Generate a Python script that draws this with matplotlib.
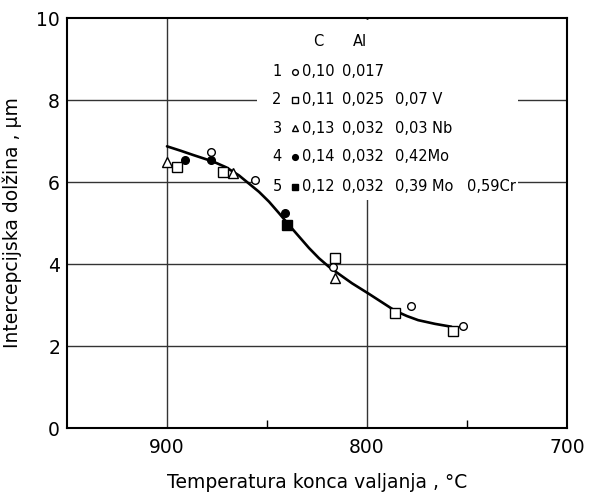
import matplotlib
matplotlib.use("Agg")
import matplotlib.pyplot as plt
from matplotlib.patches import Rectangle

# ---- data ----
s1_x = [878, 856, 817, 778, 752]
s1_y = [6.74, 6.05, 3.92, 2.98, 2.49]
s2_x = [895, 872, 816, 786, 757]
s2_y = [6.36, 6.25, 4.14, 2.80, 2.37]
s3_x = [900, 867, 816]
s3_y = [6.50, 6.21, 3.67]
s4_x = [891, 878, 841]
s4_y = [6.54, 6.54, 5.25]
s5_x = [840]
s5_y = [4.95]

curve_x = [900, 893, 887, 877, 870.5, 864, 859, 854, 849, 844, 839, 834,
           829, 824, 819, 813, 807.5, 799.3, 792, 786, 780, 774.4, 766, 757.8]
curve_y = [6.87, 6.76, 6.66, 6.50, 6.36, 6.16, 5.96, 5.76, 5.52, 5.24, 4.95,
           4.67, 4.39, 4.14, 3.93, 3.72, 3.53, 3.28, 3.05, 2.86, 2.73, 2.63,
           2.54, 2.47]

x_ticks = [900, 800, 700]
y_ticks = [0, 2, 4, 6, 8, 10]

legend_header = ["C", "Al"]
legend_num = ["1", "2", "3", "4", "5"]
legend_c = ["0,10", "0,11", "0,13", "0,14", "0,12"]
legend_al = ["0,017", "0,025", "0,032", "0,032", "0,032"]
legend_x3 = ["", "0,07 V", "0,03 Nb", "0,42Mo", "0,39 Mo"]
legend_x4 = ["", "", "", "", "0,59Cr"]

xlabel = "Temperatura konca valjanja , °C"
ylabel = "Intercepcijska dolžina , μm"

# ---- styles ----
styles = [
    dict(marker="o", mfc="white", mec="black", ms=5.5, mew=1.0),
    dict(marker="s", mfc="white", mec="black", ms=6.5, mew=1.0),
    dict(marker="^", mfc="white", mec="black", ms=6.5, mew=1.0),
    dict(marker="o", mfc="black", mec="black", ms=5.5, mew=1.0),
    dict(marker="s", mfc="black", mec="black", ms=6.5, mew=1.0),
]
series = [(s1_x, s1_y), (s2_x, s2_y), (s3_x, s3_y), (s4_x, s4_y), (s5_x, s5_y)]

plt.rcParams['font.family'] = ['DejaVu Sans']
fig = plt.figure(figsize=(5.91, 4.96), dpi=100)
ax = fig.add_axes([67/591, 1 - 428/496, 500/591, 410/496])

ax.set_xlim(950, 700)
ax.set_ylim(0, 10)

# grid lines
for gx in [900, 800]:
    ax.axvline(gx, color="#333333", lw=1.0, zorder=1)
for gy in [2, 4, 6, 8]:
    ax.axhline(gy, color="#333333", lw=1.0, zorder=1)

# white box behind the legend table
ax.add_patch(Rectangle((0.38, 0.556), 0.522, 0.44, transform=ax.transAxes,
                       facecolor="white", edgecolor="none", zorder=2))

ax.plot(curve_x, curve_y, color="black", lw=1.9, zorder=4,
        solid_joinstyle="round", solid_capstyle="round")

for (xs, ys), st in zip(series, styles):
    ax.plot(xs, ys, ls="none", zorder=5, **st)

# legend table
fs = 10.5
row_y = [0.869, 0.800, 0.731, 0.662, 0.589]
ax.text(0.502, 0.942, legend_header[0], transform=ax.transAxes, ha="center",
        va="center", fontsize=fs, zorder=6)
ax.text(0.586, 0.942, legend_header[1], transform=ax.transAxes, ha="center",
        va="center", fontsize=fs, zorder=6)
for i, yy in enumerate(row_y):
    ax.text(0.42, yy, legend_num[i], transform=ax.transAxes, ha="center",
            va="center", fontsize=fs, zorder=6)
    st = dict(styles[i])
    st["ms"] = st["ms"] * 0.75
    ax.plot([0.456], [yy], transform=ax.transAxes, ls="none", zorder=6,
            clip_on=False, **st)
    ax.text(0.470, yy, legend_c[i], transform=ax.transAxes, ha="left",
            va="center", fontsize=fs, zorder=6)
    ax.text(0.550, yy, legend_al[i], transform=ax.transAxes, ha="left",
            va="center", fontsize=fs, zorder=6)
    if legend_x3[i]:
        ax.text(0.656, yy, legend_x3[i], transform=ax.transAxes, ha="left",
                va="center", fontsize=fs, zorder=6)
    if legend_x4[i]:
        ax.text(0.800, yy, legend_x4[i], transform=ax.transAxes, ha="left",
                va="center", fontsize=fs, zorder=6)

# ticks
ax.set_xticks(x_ticks)
ax.set_xticks([850, 750], minor=True)
ax.set_yticks(y_ticks)
ax.tick_params(axis="x", which="major", length=0, pad=7, labelsize=13.5)
ax.tick_params(axis="x", which="minor", direction="in", length=6, width=1.0,
               top=False, bottom=True)
ax.tick_params(axis="y", which="major", length=0, pad=5, labelsize=13.5)

# top tick at 800
sec = ax.secondary_xaxis("top")
sec.set_xticks([800])
sec.tick_params(direction="in", length=6, width=1.0, labeltop=False)
sec.spines["top"].set_visible(False)

for sp in ax.spines.values():
    sp.set_linewidth(1.5)

ax.set_xlabel(xlabel, fontsize=13.5, labelpad=12)
ax.set_ylabel(ylabel, fontsize=13.5, labelpad=10)

fig.savefig("out.png", dpi=100)
